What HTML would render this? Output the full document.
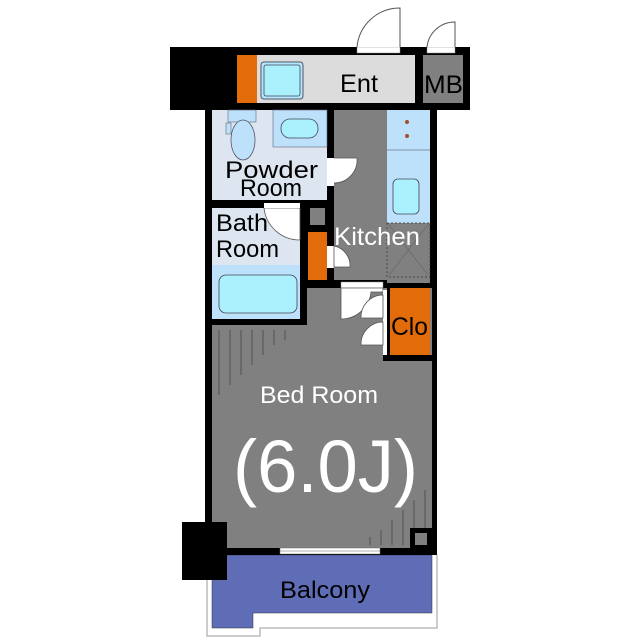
<!DOCTYPE html>
<html><head><meta charset="utf-8"><style>
html,body{margin:0;padding:0;background:#fff;width:640px;height:640px;overflow:hidden}
svg{display:block}
text{font-family:"Liberation Sans",sans-serif}
</style></head><body>
<svg width="640" height="640" viewBox="0 0 640 640" xmlns="http://www.w3.org/2000/svg">
<path d="M207 555 V636 H260 V628 H437 V555" fill="#fff" stroke="#999" stroke-width="1"/>
<path d="M212 555 H432 V613 H253 V628 H212 Z" fill="#5e6db5" stroke="#333" stroke-width="0.5"/>
<rect x="205" y="105" width="232" height="450" fill="#000"/>
<rect x="170" y="47" width="300" height="63" fill="#000"/>
<rect x="237" y="55" width="20" height="48" fill="#e36c0a"/>
<rect x="257" y="55" width="158" height="48" fill="#dcdcdc"/>
<rect x="261" y="62" width="42" height="37" rx="3" fill="#b0e8ff" stroke="#556" stroke-width="1"/>
<rect x="264" y="65" width="36" height="31" rx="2" fill="#aaf0fd" stroke="#445" stroke-width="0.8"/>
<rect x="423" y="55" width="40" height="48" fill="#808080"/>
<text x="340" y="92" font-size="25" textLength="38" lengthAdjust="spacingAndGlyphs" fill="#000">Ent</text>
<text x="424" y="93" font-size="25" textLength="39" lengthAdjust="spacingAndGlyphs" fill="#000">MB</text>
<rect x="357" y="47" width="43" height="6" fill="#fff" stroke="#888" stroke-width="0.5"/>
<path d="M357 47 A43 43 0 0 1 400 8 V47" fill="#fff" stroke="#555" stroke-width="1"/>
<rect x="427" y="47" width="28" height="6" fill="#fff" stroke="#888" stroke-width="0.5"/>
<path d="M427 47 A28 28 0 0 1 455 22 V47" fill="#fff" stroke="#555" stroke-width="1"/>
<rect x="212" y="110" width="115" height="90" fill="#dde6f0"/>
<rect x="273" y="110" width="54" height="37" fill="#bde0fb" stroke="#667" stroke-width="0.6"/>
<rect x="281" y="119" width="37" height="19" rx="9" fill="#aaf0fd" stroke="#445" stroke-width="0.8"/>
<rect x="228" y="110" width="28" height="12" fill="#bde0fb" stroke="#667" stroke-width="0.6"/>
<rect x="226" y="123" width="5" height="11" fill="#bde0fb" stroke="#667" stroke-width="0.6"/>
<ellipse cx="243" cy="140" rx="12" ry="20" fill="#bde0fb" stroke="#556" stroke-width="0.8"/>
<text x="225" y="178" font-size="24" textLength="93" lengthAdjust="spacingAndGlyphs" fill="#000">Powder</text>
<text x="240" y="196" font-size="24" textLength="62" lengthAdjust="spacingAndGlyphs" fill="#000">Room</text>
<rect x="212" y="208" width="88" height="57" fill="#dde6f0"/>
<rect x="212" y="265" width="88" height="54" fill="#bde0fb"/>
<rect x="219" y="275" width="78" height="38" rx="7" fill="#aaf0fd" stroke="#445" stroke-width="0.8"/>
<path d="M264 208 A36 36 0 0 0 300 240 V208 Z" fill="#fff" stroke="#555" stroke-width="0.8"/>
<rect x="264" y="203" width="36" height="5" fill="#fff"/>
<text x="216" y="231" font-size="24" textLength="52" lengthAdjust="spacingAndGlyphs" fill="#000">Bath</text>
<text x="216" y="257" font-size="24" textLength="63" lengthAdjust="spacingAndGlyphs" fill="#000">Room</text>
<rect x="334" y="110" width="96" height="173" fill="#808080"/>
<rect x="310" y="208" width="15" height="17" fill="#808080"/>
<rect x="387" y="110" width="43" height="113" fill="#bde0fb"/>
<line x1="387" y1="150" x2="430" y2="150" stroke="#778" stroke-width="0.8"/>
<circle cx="407" cy="122" r="2" fill="#a0522d"/>
<circle cx="407" cy="136" r="2" fill="#a0522d"/>
<rect x="393" y="179" width="26" height="35" rx="5" fill="#aaf0fd" stroke="#445" stroke-width="0.8"/>
<rect x="387" y="223" width="43" height="54" fill="none" stroke="#333" stroke-width="0.7" stroke-dasharray="2,2"/>
<path d="M389 275 L428 225 M389 225 L428 275" stroke="#555" stroke-width="0.5"/>
<rect x="308" y="232" width="19" height="48" fill="#e36c0a"/>
<rect x="327" y="158" width="7" height="28" fill="#fff"/>
<path d="M334 158 H357 A23 23 0 0 1 334 183" fill="#fff" stroke="#555" stroke-width="0.8"/>
<rect x="327" y="246" width="7" height="22" fill="#fff"/>
<path d="M334 246 A20 20 0 0 1 350 267 H334 Z" fill="#fff" stroke="#555" stroke-width="0.8"/>
<text x="334" y="245" font-size="25" textLength="86" lengthAdjust="spacingAndGlyphs" fill="#fff">Kitchen</text>
<rect x="307" y="288" width="125" height="260" fill="#808080"/>
<rect x="212" y="325" width="220" height="223" fill="#808080"/>
<rect x="307" y="280" width="80" height="8" fill="#000"/>
<rect x="341" y="282" width="42" height="6" fill="#fff" stroke="#888" stroke-width="0.5"/>
<path d="M341 288 V319 A30 30 0 0 0 371 292 H383 V288 Z" fill="#fff" stroke="#555" stroke-width="0.8"/>
<rect x="383" y="290" width="7" height="65" fill="#fff"/>
<path d="M383 295 A22 22 0 0 0 361 318 H383 Z" fill="#fff" stroke="#555" stroke-width="0.8"/>
<path d="M383 322 A22 22 0 0 0 361 345 H383 Z" fill="#fff" stroke="#555" stroke-width="0.8"/>
<rect x="383" y="355" width="54" height="6" fill="#000"/>
<rect x="387" y="283" width="3" height="78" fill="#000"/>
<rect x="390" y="288" width="40" height="67" fill="#e36c0a"/>
<text x="391" y="335" font-size="25" textLength="37" lengthAdjust="spacingAndGlyphs" fill="#000">Clo</text>
<g stroke="#333" stroke-width="0.6">
<line x1="219" y1="330" x2="219" y2="395"/><line x1="230" y1="330" x2="230" y2="385"/>
<line x1="241" y1="330" x2="241" y2="375"/><line x1="252" y1="330" x2="252" y2="365"/>
<line x1="263" y1="330" x2="263" y2="355"/><line x1="274" y1="330" x2="274" y2="345"/>
<line x1="285" y1="330" x2="285" y2="340"/>
<line x1="425" y1="490" x2="425" y2="540"/><line x1="414" y1="500" x2="414" y2="545"/>
<line x1="403" y1="510" x2="403" y2="545"/><line x1="392" y1="520" x2="392" y2="545"/>
<line x1="381" y1="530" x2="381" y2="545"/><line x1="370" y1="537" x2="370" y2="545"/>
</g>
<rect x="410" y="528" width="22" height="20" fill="#000"/>
<rect x="415" y="533" width="12" height="12" fill="#808080"/>
<text x="260" y="403" font-size="24" textLength="118" lengthAdjust="spacingAndGlyphs" fill="#fff">Bed Room</text>
<text x="233" y="492" font-size="74" textLength="185" lengthAdjust="spacingAndGlyphs" fill="#fff">(6.0J)</text>
<rect x="205" y="548" width="232" height="7" fill="#000"/>
<rect x="280" y="548" width="100" height="6" fill="#fff" stroke="#666" stroke-width="0.5"/>
<line x1="280" y1="551" x2="380" y2="551" stroke="#666" stroke-width="0.5"/>
<rect x="182" y="522" width="45" height="58" fill="#000"/>
<text x="280" y="598" font-size="24" textLength="90" lengthAdjust="spacingAndGlyphs" fill="#000">Balcony</text>
</svg>
</body></html>
